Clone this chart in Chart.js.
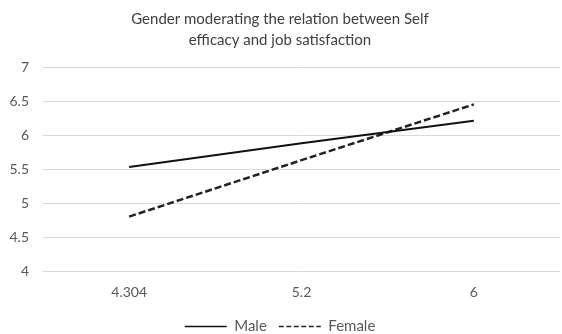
<!DOCTYPE html>
<html>
<head>
<meta charset="utf-8">
<script src="https://cdn.jsdelivr.net/npm/chart.js@4/dist/chart.umd.min.js"></script>
<style>
  html, body { margin: 0; padding: 0; background: #fff; }
  #wrap { width: 562px; height: 334px; position: relative; }
</style>
</head>
<body>
<div id="wrap"><canvas id="c"></canvas></div>
<script>
// data
const titleLines = ["Gender moderating the relation between Self", "efficacy and job satisfaction"];
const categories = ["4.304", "5.2", "6"];
const maleValues = [5.53, 5.88, 6.21];
const femaleValues = [4.80, 5.63, 6.45];
const yTicks = [4, 4.5, 5, 5.5, 6, 6.5, 7];

const FONT = "Lato, 'Open Sans', sans-serif";
const TXT = "#595959";

// push the legend row a little lower than Chart.js would place it
const legendNudge = {
  id: "legendNudge",
  afterLayout(chart) {
    const lg = chart.legend;
    if (!lg) return;
    lg.top += 10;
    lg.bottom += 10;
    (lg.legendHitBoxes || []).forEach(b => { b.top += 10; });
  },
};

new Chart(document.getElementById("c"), {
  type: "line",
  data: {
    labels: categories,
    datasets: [
      { label: "Male", data: maleValues, borderColor: "#111", borderWidth: 2,
        pointRadius: 0, tension: 0, fill: false },
      { label: "Female", data: femaleValues, borderColor: "#222", borderWidth: 2.5,
        borderDash: [7, 3], pointRadius: 0, tension: 0, fill: false },
    ],
  },
  plugins: [legendNudge],
  options: {
    responsive: true,
    maintainAspectRatio: false,
    animation: false,
    layout: { padding: { left: 0, right: 2, top: 0, bottom: 0 } },
    plugins: {
      title: {
        display: true,
        text: titleLines,
        color: "#404040",
        font: { family: FONT, size: 15, weight: "normal", lineHeight: 1.4 },
        padding: { top: 9, bottom: 16 },
      },
      legend: {
        position: "bottom",
        labels: {
          color: TXT,
          font: { family: FONT, size: 15 },
          usePointStyle: true,
          pointStyle: "line",
          pointStyleWidth: 42,
          padding: 12,
          generateLabels(chart) {
            const items = Chart.defaults.plugins.legend.labels.generateLabels(chart);
            items.forEach((it, i) => {
              const ds = chart.data.datasets[i];
              it.pointStyle = "line";
              it.lineDash = ds.borderDash ? [5, 2.5] : [];
              it.lineWidth = 1.5;
              it.strokeStyle = ds.borderColor;
              it.fillStyle = ds.borderColor;
            });
            return items;
          },
        },
      },
      tooltip: { enabled: false },
    },
    scales: {
      x: {
        offset: true,
        grid: { display: false, drawTicks: false },
        border: { display: false },
        ticks: { color: TXT, font: { family: FONT, size: 14 }, padding: 13 },
        afterFit(s) { s.height = 26; },
      },
      y: {
        min: yTicks[0],
        max: yTicks[yTicks.length - 1],
        afterBuildTicks(s) { s.ticks = yTicks.map(v => ({ value: v })); },
        grid: { color: "#d9d9d9", drawTicks: false, lineWidth: 1 },
        border: { display: false },
        ticks: { color: TXT, font: { family: FONT, size: 14 }, padding: 14,
                 callback: v => String(v) },
        afterFit(s) { s.width = 43; },
      },
    },
  },
});
</script>
</body>
</html>
